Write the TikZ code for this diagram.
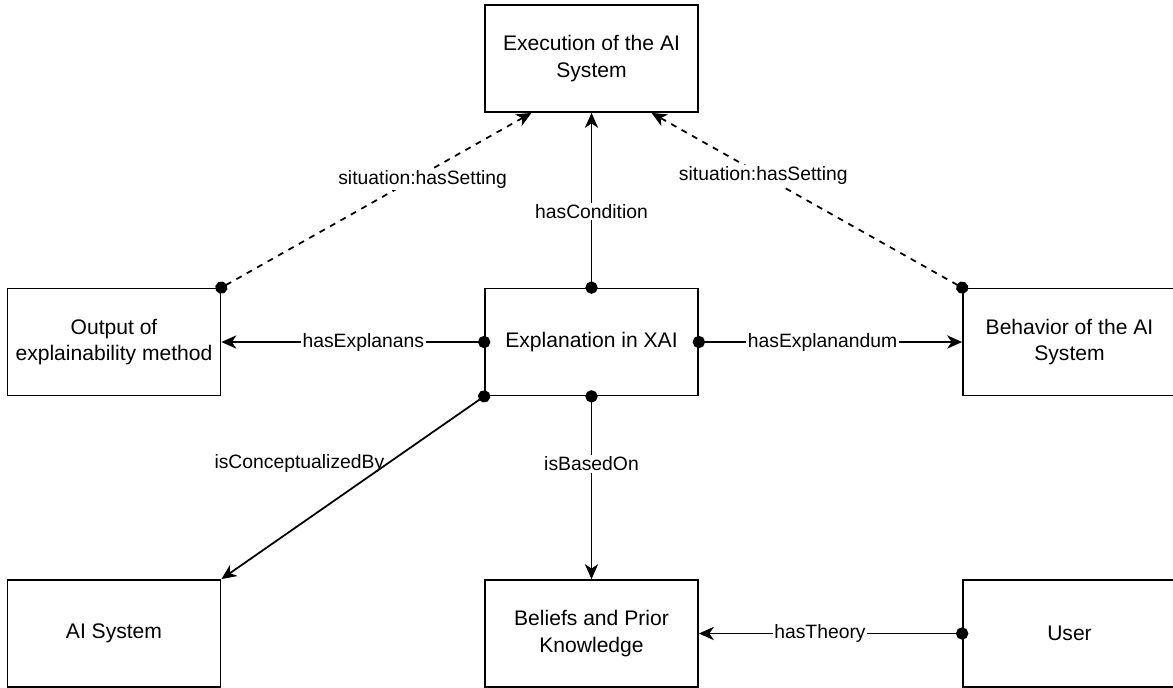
\documentclass[tikz,border=0pt]{standalone}
\usepackage{fontspec}
\setmainfont{Liberation Sans}
\usetikzlibrary{arrows.meta}

\begin{document}
\begin{tikzpicture}[x=0.02cm,y=-0.02cm,
    box/.style={draw, line width=1pt, minimum width=4.26cm,
      minimum height=2.14cm, align=center, inner sep=0pt,
      font=\fontsize{12}{15}\selectfont},
    rel/.style={line width=1pt,
      {Circle[length=7pt]}-{Stealth[length=8.5pt,width=7.5pt,inset=2.5pt]},
      shorten <=-3.5pt},
    setting/.style={rel, dash pattern=on 3.4pt off 3.4pt},
    lbl/.style={fill=white, inner sep=1pt, font=\fontsize{11}{13}\selectfont}]
  \useasboundingbox (0,0) rectangle (1173,687);

  \node[box] (exec) at (591.5,58.5) {Execution of the AI\\System};
  \node[box] (out) at (114,342) {Output of\\explainability method};
  \node[box] (xai) at (591.5,342) {Explanation in XAI};
  \node[box] (beh) at (1069.5,342) {Behavior of the AI\\System};
  \node[box] (ais) at (114,633.5) {AI System};
  \node[box] (bel) at (591.5,633.5) {Beliefs and Prior\\Knowledge};
  \node[box] (usr) at (1069.5,633.5) {User};

  \draw[setting]
    (out.north east)
    -- node[lbl,pos=0.62,xshift=0.18cm] {situation:hasSetting}
    ([xshift=-1.2cm]exec.south);
  \draw[setting]
    (beh.north west)
    -- node[lbl,pos=0.64] {situation:hasSetting}
    ([xshift=1.2cm]exec.south);
  \draw[rel]
    (xai.north)
    -- node[lbl,pos=0.435] {hasCondition}
    (exec.south);
  \draw[rel]
    (xai.west)
    -- node[lbl,pos=0.46] {hasExplanans}
    (out.east);
  \draw[rel]
    (xai.east)
    -- node[lbl,pos=0.47] {hasExplanandum}
    (beh.west);
  \draw[rel]
    (xai.south west)
    -- node[lbl,fill=none,pos=0.37,anchor=east] {isConceptualizedBy}
    (ais.north east);
  \draw[rel]
    (xai.south)
    -- node[lbl,pos=0.37] {isBasedOn}
    (bel.north);
  \draw[rel]
    (usr.west)
    -- node[lbl,pos=0.54] {hasTheory}
    (bel.east);
\end{tikzpicture}
\end{document}
